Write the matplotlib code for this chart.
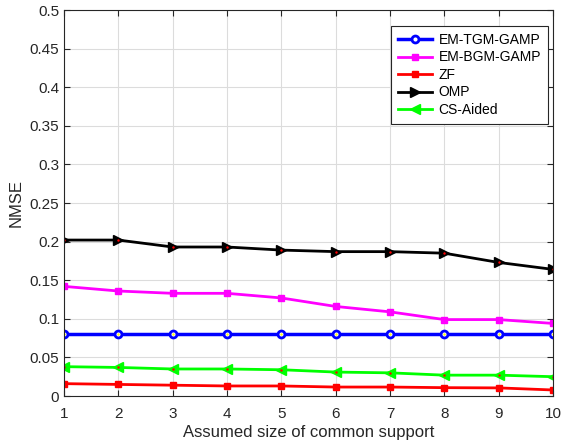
import matplotlib.pyplot as plt

plt.rcParams['font.family'] = ['Liberation Sans', 'DejaVu Sans']

support_size = [1, 2, 3, 4, 5, 6, 7, 8, 9, 10]
em_tgm_gamp = [0.080, 0.080, 0.080, 0.080, 0.080, 0.080, 0.080, 0.080, 0.080, 0.080]
em_bgm_gamp = [0.142, 0.136, 0.133, 0.133, 0.127, 0.116, 0.109, 0.099, 0.099, 0.094]
zf = [0.016, 0.015, 0.014, 0.013, 0.013, 0.0116, 0.0116, 0.0108, 0.0105, 0.0078]
omp = [0.202, 0.202, 0.193, 0.193, 0.189, 0.187, 0.187, 0.185, 0.173, 0.164]
cs_aided = [0.038, 0.037, 0.035, 0.035, 0.034, 0.031, 0.030, 0.027, 0.027, 0.025]

yticks = [0, 0.05, 0.1, 0.15, 0.2, 0.25, 0.3, 0.35, 0.4, 0.45, 0.5]
ytick_labels = ['0', '0.05', '0.1', '0.15', '0.2', '0.25', '0.3', '0.35', '0.4', '0.45', '0.5']

fig = plt.figure(figsize=(5.63, 4.45), dpi=100)
ax = fig.add_axes([64 / 563, 1 - 396 / 445, (553 - 64) / 563, (396 - 10) / 445])

ax.plot(support_size, em_tgm_gamp, '-o', color='blue', lw=2.5, ms=5,
        mfc='white', mec='blue', mew=2, label='EM-TGM-GAMP')
ax.plot(support_size, em_bgm_gamp, '-s', color='magenta', lw=2, ms=5,
        mfc='magenta', label='EM-BGM-GAMP')
ax.plot(support_size, zf, '-s', color='red', lw=2, ms=5,
        mfc='red', label='ZF')
ax.plot(support_size, omp, '->', color='black', lw=2, ms=7,
        mfc='black', mec='black', label='OMP')
ax.plot(support_size, cs_aided, '-<', color='#00ff00', lw=2, ms=7,
        mfc='#00ff00', mec='#00ff00', label='CS-Aided')
# small centre dots inside the markers
ax.plot(support_size, em_tgm_gamp, '.', color='yellow', ms=1.5)
ax.plot(support_size, omp, '.', color='red', ms=1.5)
ax.plot(support_size, cs_aided, '.', color='red', ms=1.5)

ax.set_xlim(1, 10)
ax.set_ylim(0, 0.5)
ax.set_xticks(support_size)
ax.set_yticks(yticks)
ax.set_yticklabels(ytick_labels)
ax.tick_params(direction='in', top=True, right=True, labelsize=11, length=4,
               width=0.8, color='#262626', labelcolor='#262626')
ax.tick_params(axis='x', pad=8)
ax.grid(True, color='#dcdcdc', lw=0.8)
ax.set_axisbelow(True)
for s in ax.spines.values():
    s.set_color('#262626')

ax.set_xlabel('Assumed size of common support', fontsize=12, color='#262626',
              labelpad=3)
ax.set_ylabel('NMSE', fontsize=12, color='#262626')

leg = ax.legend(loc='upper right', bbox_to_anchor=(0.990, 0.9585), borderaxespad=0,
                fontsize=10, fancybox=False, framealpha=1, edgecolor='#262626',
                handlelength=2.45, handletextpad=0.45, borderpad=0.5,
                labelspacing=0.25)
leg.get_frame().set_linewidth(0.8)

plt.savefig('out.png', dpi=100)
